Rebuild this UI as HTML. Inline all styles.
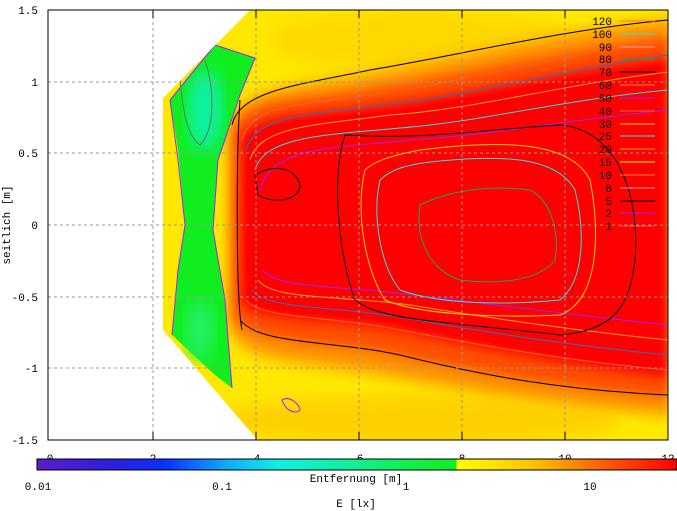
<!DOCTYPE html>
<html><head><meta charset="utf-8"><style>
body{margin:0;background:#fff;}
svg{display:block;font-family:"Liberation Mono",monospace;font-size:11px;}
</style></head><body>
<svg width="677" height="511" viewBox="0 0 677 511" xmlns="http://www.w3.org/2000/svg">
<defs>
<filter id="b4" x="-10%" y="-10%" width="120%" height="120%"><feGaussianBlur stdDeviation="5"/></filter>
<filter id="b8" x="-10%" y="-10%" width="120%" height="120%"><feGaussianBlur stdDeviation="8"/></filter>
<clipPath id="pc"><rect x="48" y="10" width="620" height="430"/></clipPath>
<clipPath id="dc"><polygon points="250,10 668,10 668,445 262,445 163,330 163,98"/></clipPath>
<linearGradient id="cb" x1="0" x2="1">
<stop offset="0" stop-color="#5a1ec8"/><stop offset="0.12" stop-color="#2a20e0"/><stop offset="0.2" stop-color="#0a30ff"/>
<stop offset="0.3" stop-color="#10b0ff"/><stop offset="0.38" stop-color="#10f0e0"/><stop offset="0.5" stop-color="#10f090"/>
<stop offset="0.6" stop-color="#10f040"/><stop offset="0.655" stop-color="#10f020"/><stop offset="0.656" stop-color="#ffff00"/>
<stop offset="0.78" stop-color="#ffc000"/><stop offset="0.9" stop-color="#ff5000"/><stop offset="1" stop-color="#ff0000"/>
</linearGradient>
</defs>
<g clip-path="url(#pc)">
<g clip-path="url(#dc)">
<rect x="150" y="0" width="530" height="450" fill="#ffe800"/>
<ellipse cx="420" cy="40" rx="150" ry="30" fill="#ffd800" filter="url(#b8)"/>
<ellipse cx="420" cy="420" rx="200" ry="25" fill="#ffd000" filter="url(#b8)"/>
<g filter="url(#b4)">
<path d="M225,140 C228,90 270,85 330,75 C420,60 520,30 670,15 L670,420 C560,410 470,395 380,380 C300,365 230,370 225,320 Z" fill="#ffc000"/>
<path d="M228,135 C233,95 272,92 333,84 C425,70 530,40 670,22 L670,412 C560,402 470,388 380,370 C300,355 235,360 228,318 Z" fill="#ff9000"/>
<path d="M232,135 C237,103 278,100 338,93 C435,80 545,53 670,36 L670,398 C560,388 470,372 380,352 C298,340 240,343 232,310 Z" fill="#ff5000"/>
<path d="M238,140 C243,115 290,112 350,106 C450,96 560,68 670,55 L670,380 C560,368 470,348 380,330 C290,320 243,322 238,300 Z" fill="#ff0000"/>
</g>
<path d="M170,100 L215,45 L255,58 L240,95 L218,160 L213,230 L225,300 L232,388 L215,375 L172,335 L178,270 L185,225 L178,150 Z" fill="#10ee20"/>
<ellipse cx="205" cy="110" rx="18" ry="40" fill="#10f0a0" filter="url(#b8)"/>
<ellipse cx="200" cy="330" rx="15" ry="30" fill="#20f060" filter="url(#b8)"/>
<g fill="none" stroke-width="1">
<path d="M170,100 L215,45 L255,58 L240,95 L218,160 L213,230 L225,300 L232,388" stroke="#a020ff"/>
<path d="M170,100 L178,160 L185,225 L178,270 L172,335" stroke="#a020ff"/>
<path d="M205,60 C215,90 215,130 200,145 C185,135 182,100 180,80" stroke="#508060"/>
<path d="M240,100 C236,160 236,300 242,330" stroke="#000"/>
<path d="M232,125 C240,90 300,85 370,70 C460,55 560,30 668,20" stroke="#000"/>
<path d="M240,320 C260,345 330,340 400,355 C480,375 560,390 668,395" stroke="#000"/>
<path d="M242,140 C250,105 300,105 370,95 C450,85 560,55 668,40" stroke="#ff6030"/>
<path d="M246,150 C255,115 310,115 380,105 C460,98 560,70 668,55" stroke="#3070c0"/>
<path d="M250,160 C260,125 320,125 390,115 C470,110 560,85 668,72" stroke="#ffa020"/>
<path d="M255,170 C265,135 330,135 400,128 C480,122 560,100 668,90" stroke="#30e0e0"/>
<path d="M260,190 C270,145 340,148 410,140 C490,135 570,120 668,110" stroke="#a020ff"/>
<path d="M246,300 C262,320 330,315 400,330 C480,345 560,360 668,370" stroke="#ff6030"/>
<path d="M252,290 C268,310 330,305 405,318 C485,332 565,345 668,355" stroke="#3070c0"/>
<path d="M258,280 C272,300 335,295 410,305 C490,318 570,330 668,340" stroke="#ffa020"/>
<path d="M262,270 C280,290 340,285 415,295 C495,305 575,315 668,325" stroke="#a020ff"/>
<path d="M255,175 C270,165 295,165 300,185 C300,200 275,205 258,195 Z" stroke="#000"/>
<path d="M345,135 C330,180 340,260 355,300 C380,320 430,320 560,335 C620,330 630,300 635,260 C640,200 620,130 560,125 C480,130 420,140 345,135 Z" stroke="#000"/>
<path d="M365,170 C355,210 365,270 385,300 C420,315 500,318 560,315 C600,300 600,230 590,180 C570,140 500,140 420,150 C395,155 375,160 365,170 Z" stroke="#ffd000"/>
<path d="M380,180 C372,215 380,265 400,290 C440,305 510,305 560,300 C585,280 585,230 575,190 C555,155 500,155 430,162 C405,165 390,170 380,180 Z" stroke="#30e0e0"/>
<path d="M420,205 C415,240 430,270 460,280 C500,285 540,280 555,260 C560,230 550,200 530,190 C490,185 450,190 420,205 Z" stroke="#20a060"/>
<path d="M282,400 C290,395 300,405 300,410 C295,415 285,410 282,400 Z" stroke="#a020ff"/>
</g>
</g>
<g stroke="#999" stroke-dasharray="3,3" stroke-width="1">
<line x1="153" y1="10" x2="153" y2="440"/><line x1="256" y1="10" x2="256" y2="440"/>
<line x1="359" y1="10" x2="359" y2="440"/><line x1="462" y1="10" x2="462" y2="440"/>
<line x1="565" y1="10" x2="565" y2="440"/>
<line x1="48" y1="82" x2="668" y2="82"/><line x1="48" y1="153" x2="668" y2="153"/>
<line x1="48" y1="225" x2="668" y2="225"/><line x1="48" y1="297" x2="668" y2="297"/>
<line x1="48" y1="368" x2="668" y2="368"/>
</g>
</g>
<rect x="48" y="10" width="620" height="430" fill="none" stroke="#000"/>
<g stroke="#000">
<line x1="153" y1="10" x2="153" y2="18"/><line x1="256" y1="10" x2="256" y2="18"/><line x1="359" y1="10" x2="359" y2="18"/><line x1="462" y1="10" x2="462" y2="18"/><line x1="565" y1="10" x2="565" y2="18"/>
<line x1="153" y1="440" x2="153" y2="432"/><line x1="256" y1="440" x2="256" y2="432"/><line x1="359" y1="440" x2="359" y2="432"/><line x1="462" y1="440" x2="462" y2="432"/><line x1="565" y1="440" x2="565" y2="432"/>
</g>
<g text-anchor="end">
<text x="38" y="14">1.5</text><text x="38" y="86">1</text><text x="38" y="157">0.5</text><text x="38" y="229">0</text>
<text x="38" y="301">-0.5</text><text x="38" y="372">-1</text><text x="38" y="444">-1.5</text>
</g>
<text transform="translate(10,225) rotate(-90)" text-anchor="middle">seitlich [m]</text>
<g text-anchor="middle">
<text x="50" y="462">0</text><text x="153" y="462">2</text><text x="257" y="462">4</text><text x="360" y="462">6</text>
<text x="462" y="462">8</text><text x="565" y="462">10</text><text x="668" y="462">12</text>
</g>
<rect x="37" y="459" width="640" height="11" fill="url(#cb)" stroke="#000"/>
<text x="356" y="482" text-anchor="middle">Entfernung [m]</text>
<g text-anchor="middle">
<text x="38" y="490">0.01</text><text x="222" y="490">0.1</text><text x="406" y="490">1</text><text x="590" y="490">10</text>
</g>
<text x="356" y="507" text-anchor="middle">E [lx]</text>
<g text-anchor="end" font-size="11">
<text x="612" y="25">120</text><text x="612" y="38">100</text><text x="612" y="51">90</text><text x="612" y="63">80</text>
<text x="612" y="76">70</text><text x="612" y="89">60</text><text x="612" y="102">50</text><text x="612" y="115">40</text>
<text x="612" y="128">30</text><text x="612" y="140">25</text><text x="612" y="153">20</text><text x="612" y="166">15</text>
<text x="612" y="179">10</text><text x="612" y="192">8</text><text x="612" y="205">5</text><text x="612" y="217">2</text><text x="612" y="230">1</text>
</g>
<g stroke-width="1">
<line x1="620" y1="21" x2="655" y2="21" stroke="#ff8040"/><line x1="620" y1="34" x2="655" y2="34" stroke="#30e0e0"/>
<line x1="620" y1="47" x2="655" y2="47" stroke="#ffa0a0"/><line x1="620" y1="59" x2="655" y2="59" stroke="#20a060"/>
<line x1="620" y1="72" x2="655" y2="72" stroke="#000"/><line x1="620" y1="85" x2="655" y2="85" stroke="#ff8040"/>
<line x1="620" y1="98" x2="655" y2="98" stroke="#a020ff"/><line x1="620" y1="111" x2="655" y2="111" stroke="#ff6030"/>
<line x1="620" y1="124" x2="655" y2="124" stroke="#ffd000"/><line x1="620" y1="136" x2="655" y2="136" stroke="#30e0e0"/>
<line x1="620" y1="149" x2="655" y2="149" stroke="#ffa020"/><line x1="620" y1="162" x2="655" y2="162" stroke="#ffff00"/>
<line x1="620" y1="175" x2="655" y2="175" stroke="#ff8040"/><line x1="620" y1="188" x2="655" y2="188" stroke="#ffa0a0"/>
<line x1="620" y1="201" x2="655" y2="201" stroke="#000"/><line x1="620" y1="213" x2="655" y2="213" stroke="#a020ff"/>
<line x1="620" y1="226" x2="655" y2="226" stroke="#ff6030"/>
</g>
</svg>
</body></html>
